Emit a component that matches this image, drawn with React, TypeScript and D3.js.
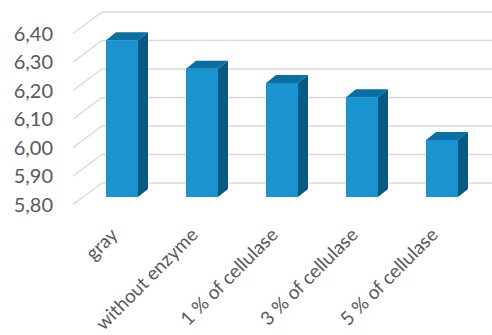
import React from "react";
import * as d3 from "d3";

const categories = ["gray", "without enzyme", "1 % of cellulase", "3 % of cellulase", "5 % of cellulase"];
const values = [6.35, 6.25, 6.2, 6.15, 6.0];
const ticks = [5.8, 5.9, 6.0, 6.1, 6.2, 6.3, 6.4];

const W = 492, H = 335;
const FLOOR_DX = -29, FLOOR_DY = 21.5;
const BAR_OFF = 14, DEPTH_X = 10, DEPTH_Y = 8;

export default function App() {
  const yBack = d3.scaleLinear().domain([5.8, 6.4]).range([183, 12]);
  const x = d3.scaleBand().domain(categories).range([82, 482]).paddingInner(0.6).paddingOuter(0.3);
  const bw = x.bandwidth();
  const fmt = (v: number) => v.toFixed(2).replace(".", ",");
  const wallX = 102;
  const font = "Lato, 'Open Sans', sans-serif";
  return (
    <svg width={W} height={H} style={{ position: "absolute", left: 0, top: 0, background: "#fff" }}>
      {ticks.map((t) => {
        const yb = yBack(t);
        return (
          <g key={t}>
            <line x1={wallX} x2={W} y1={yb} y2={yb} stroke="#d9d9d9" strokeWidth={1.5} />
            <line x1={wallX} y1={yb} x2={wallX + FLOOR_DX} y2={yb + FLOOR_DY} stroke="#d9d9d9" strokeWidth={1.5} />
            <text x={53} y={yb + FLOOR_DY} dy="0.35em" textAnchor="end" fontFamily={font} fontSize={20} fill="#595959">
              {fmt(t)}
            </text>
          </g>
        );
      })}
      {categories.map((c, i) => {
        const x0 = x(c)!;
        const yt = yBack(values[i]) + BAR_OFF;
        const yb = yBack(5.8) + BAR_OFF;
        return (
          <g key={c}>
            <rect x={x0} y={yt} width={bw} height={yb - yt} fill="#1a94d0" />
            <polygon
              points={`${x0},${yt} ${x0 + bw},${yt} ${x0 + bw + DEPTH_X},${yt - DEPTH_Y} ${x0 + DEPTH_X},${yt - DEPTH_Y}`}
              fill="#0a6fa3"
            />
            <polygon
              points={`${x0 + bw},${yt} ${x0 + bw + DEPTH_X},${yt - DEPTH_Y} ${x0 + bw + DEPTH_X},${yb - DEPTH_Y} ${x0 + bw},${yb}`}
              fill="#055a84"
            />
          </g>
        );
      })}
      {categories.map((c) => {
        const cx = x(c)! + bw / 2 - 3;
        const cy = 236;
        return (
          <text key={c} transform={`translate(${cx},${cy}) rotate(-45)`} textAnchor="end" fontFamily={font} fontSize={19} fill="#595959">
            {c}
          </text>
        );
      })}
    </svg>
  );
}
